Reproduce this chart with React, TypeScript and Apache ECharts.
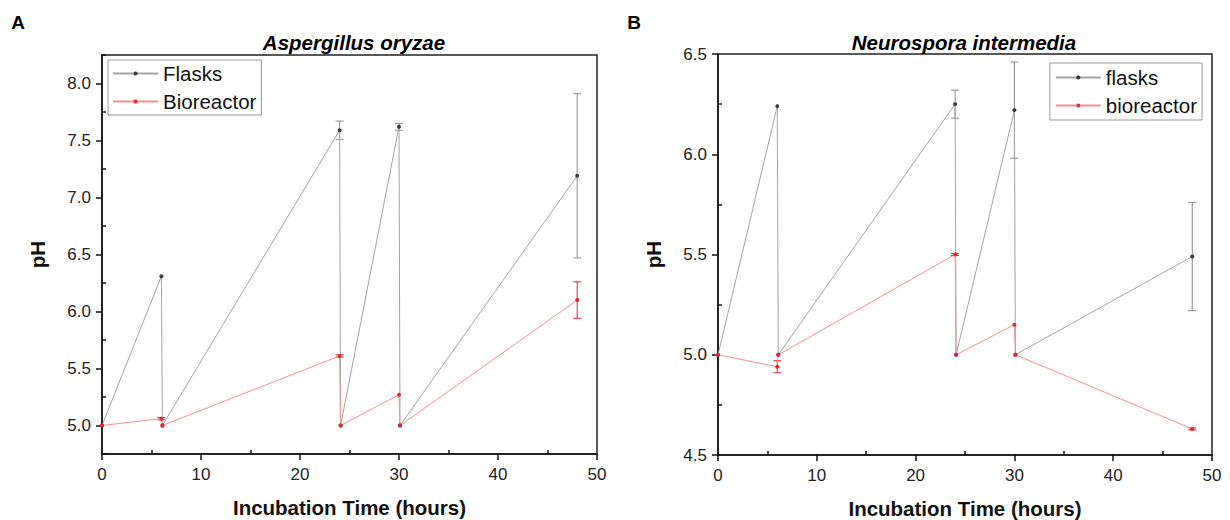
import React, { useEffect, useRef } from "react";
import * as echarts from "echarts";

// Sampling times (hours); the medium was refreshed right after 6, 24 and 30 h
const times = [0, 6, 6.1, 24, 24.1, 30, 30.1, 48];

// Panel A – Aspergillus oryzae
const aFlasks = [5.0, 6.31, 5.0, 7.59, 5.0, 7.62, 5.0, 7.19];
const aFlasksErr = [0, 0, 0, 0.08, 0, 0.03, 0, 0.72];
const aBioreactor = [5.0, 5.06, 5.0, 5.61, 5.0, 5.27, 5.0, 6.1];
const aBioreactorErr = [0, 0.01, 0, 0.01, 0, 0, 0, 0.16];

// Panel B – Neurospora intermedia
const bFlasks = [5.0, 6.24, 5.0, 6.25, 5.0, 6.22, 5.0, 5.49];
const bFlasksErr = [0, 0, 0, 0.07, 0, 0.24, 0, 0.27];
const bBioreactor = [5.0, 4.94, 5.0, 5.5, 5.0, 5.15, 5.0, 4.63];
const bBioreactorErr = [0, 0.03, 0, 0.005, 0, 0, 0, 0.005];

// Axis ticks
const xMajor = [0, 10, 20, 30, 40, 50];
const xMinor = [5, 15, 25, 35, 45];
const aYMajor = [5.0, 5.5, 6.0, 6.5, 7.0, 7.5, 8.0];
const aYMinor = [4.75, 5.25, 5.75, 6.25, 6.75, 7.25, 7.75, 8.25];
const bYMajor = [4.5, 5.0, 5.5, 6.0, 6.5];
const bYMinor = [4.75, 5.25, 5.75, 6.25];

const FONT = "Liberation Sans, Arial, sans-serif";
const FLASK_LINE = "#a3a3a3";
const FLASK_DOT = "#3a3a3a";
const BIO_LINE = "#f29090";
const BIO_DOT = "#e8262a";

function pairs(xs: number[], ys: number[]) {
  return xs.map((x, i) => [x, ys[i]]);
}
function errData(xs: number[], ys: number[], es: number[]) {
  return xs.map((x, i) => [x, ys[i], es[i]]).filter((d) => d[2] > 0);
}

function axesFor(grid: number, ymin: number, ymax: number, yMajor: number[], yMinor: number[], labelFmt: (v: number) => string) {
  const lineStyle = { color: "#111", width: 1.5 };
  const xMain = {
    type: "value",
    gridIndex: grid,
    min: 0,
    max: 50,
    position: "bottom",
    axisLine: { show: true, lineStyle },
    axisTick: { show: true, customValues: xMajor, length: 6, lineStyle },
    axisLabel: { customValues: xMajor, fontSize: 17, color: "#222", fontFamily: FONT, margin: 12 },
    splitLine: { show: false },
    name: "Incubation Time (hours)",
    nameLocation: "middle",
    nameGap: 43,
    nameTextStyle: { fontSize: 20.5, fontWeight: "bold", color: "#111", fontFamily: FONT },
  };
  const xOver = {
    type: "value",
    gridIndex: grid,
    min: 0,
    max: 50,
    position: "bottom",
    axisLine: { show: false },
    axisTick: { show: true, inside: true, customValues: xMinor, length: 4, lineStyle },
    axisLabel: { show: false },
    splitLine: { show: false },
  };
  const yMain = {
    type: "value",
    gridIndex: grid,
    min: ymin,
    max: ymax,
    position: "left",
    axisLine: { show: true, lineStyle },
    axisTick: { show: true, customValues: yMajor, length: 6, lineStyle },
    axisLabel: { customValues: yMajor, fontSize: 17, color: "#222", fontFamily: FONT, margin: 11, formatter: labelFmt },
    splitLine: { show: false },
    name: "pH",
    nameLocation: "middle",
    nameGap: 54,
    nameTextStyle: { fontSize: 20.5, fontWeight: "bold", color: "#111", fontFamily: FONT },
  };
  const yOver = {
    type: "value",
    gridIndex: grid,
    min: ymin,
    max: ymax,
    position: "left",
    axisLine: { show: false },
    axisTick: { show: true, inside: true, customValues: yMinor, length: 4, lineStyle },
    axisLabel: { show: false },
    splitLine: { show: false },
  };
  return { x: [xMain, xOver], y: [yMain, yOver] };
}

function lineSeries(name: string, xi: number, yi: number, data: number[][], line: string, dot: string) {
  return {
    type: "line",
    name,
    xAxisIndex: xi,
    yAxisIndex: yi,
    data,
    symbol: "circle",
    symbolSize: 4,
    showSymbol: true,
    lineStyle: { color: line, width: 1 },
    itemStyle: { color: dot },
    z: 3,
  };
}

function errSeries(xi: number, yi: number, data: number[][], color: string) {
  return {
    type: "custom",
    name: "err",
    xAxisIndex: xi,
    yAxisIndex: yi,
    data,
    silent: true,
    z: 2,
    renderItem: (params: any, api: any) => {
      const x = api.value(0);
      const y = api.value(1);
      const e = api.value(2);
      const t = api.coord([x, y + e]);
      const b = api.coord([x, y - e]);
      const w = 4;
      const st = { stroke: color, lineWidth: 1 };
      return {
        type: "group",
        children: [
          { type: "line", shape: { x1: t[0], y1: t[1], x2: b[0], y2: b[1] }, style: st },
          { type: "line", shape: { x1: t[0] - w, y1: t[1], x2: t[0] + w, y2: t[1] }, style: st },
          { type: "line", shape: { x1: b[0] - w, y1: b[1], x2: b[0] + w, y2: b[1] }, style: st },
        ],
      };
    },
  };
}

export default function App() {
  const ref = useRef<HTMLDivElement>(null);
  useEffect(() => {
    if (!ref.current) return;
    const chart = echarts.init(ref.current, null, { renderer: "svg" });
    const fmt1 = (v: number) => v.toFixed(1);
    const a = axesFor(0, 4.75, 8.25, aYMajor, aYMinor, fmt1);
    const b = axesFor(1, 4.5, 6.5, bYMajor, bYMinor, fmt1);
    const legendText = { fontSize: 20.5, color: "#111", fontFamily: FONT };
    chart.setOption({
      animation: false,
      backgroundColor: "#fff",
      grid: [
        { left: 102, top: 55, width: 495, height: 399, show: true, borderColor: "#222", borderWidth: 1.5, containLabel: false, outerBoundsMode: "none" },
        { left: 718, top: 54, width: 494, height: 401, show: true, borderColor: "#222", borderWidth: 1.5, containLabel: false, outerBoundsMode: "none" },
      ],
      xAxis: [...a.x, ...b.x],
      yAxis: [...a.y, ...b.y],
      legend: [
        {
          data: ["Flasks", "Bioreactor"],
          orient: "vertical",
          left: 108,
          top: 60,
          itemWidth: 45,
          itemHeight: 5,
          itemGap: 7,
          padding: [3, 5, 3, 4],
          borderColor: "#999",
          borderWidth: 1,
          textStyle: legendText,
        },
        {
          data: ["flasks", "bioreactor"],
          orient: "vertical",
          right: 28,
          top: 63,
          itemWidth: 45,
          itemHeight: 5,
          itemGap: 7,
          padding: [4, 5, 4, 5],
          borderColor: "#999",
          borderWidth: 1,
          textStyle: legendText,
        },
      ],
      graphic: [
        { type: "text", x: 18, y: 22, style: { text: "A", font: `bold 19px ${FONT}`, fill: "#000", textAlign: "center", textVerticalAlign: "middle" } },
        { type: "text", x: 634, y: 22, style: { text: "B", font: `bold 19px ${FONT}`, fill: "#000", textAlign: "center", textVerticalAlign: "middle" } },
        { type: "text", x: 354, y: 42, style: { text: "Aspergillus oryzae", font: `italic bold 20.5px ${FONT}`, fill: "#000", textAlign: "center", textVerticalAlign: "middle" } },
        { type: "text", x: 964, y: 42, style: { text: "Neurospora intermedia", font: `italic bold 20.5px ${FONT}`, fill: "#000", textAlign: "center", textVerticalAlign: "middle" } },
      ],
      series: [
        errSeries(0, 0, errData(times, aFlasks, aFlasksErr), "#8a8a8a"),
        errSeries(0, 0, errData(times, aBioreactor, aBioreactorErr), BIO_DOT),
        lineSeries("Flasks", 0, 0, pairs(times, aFlasks), FLASK_LINE, FLASK_DOT),
        lineSeries("Bioreactor", 0, 0, pairs(times, aBioreactor), BIO_LINE, BIO_DOT),
        errSeries(2, 2, errData(times, bFlasks, bFlasksErr), "#8a8a8a"),
        errSeries(2, 2, errData(times, bBioreactor, bBioreactorErr), BIO_DOT),
        lineSeries("flasks", 2, 2, pairs(times, bFlasks), FLASK_LINE, FLASK_DOT),
        lineSeries("bioreactor", 2, 2, pairs(times, bBioreactor), BIO_LINE, BIO_DOT),
      ],
    });
    return () => chart.dispose();
  }, []);
  return <div ref={ref} style={{ position: "absolute", left: 0, top: 0, width: 1230, height: 520 }} />;
}
